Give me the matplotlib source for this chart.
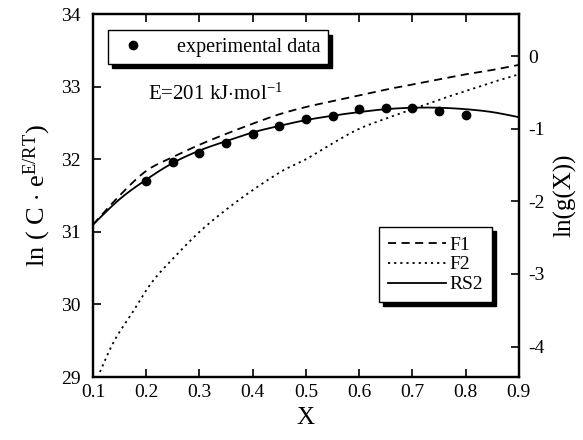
import matplotlib
matplotlib.use("Agg")
import matplotlib.pyplot as plt
import numpy as np

plt.rcParams['font.family'] = ['Liberation Serif', 'DejaVu Serif']
plt.rcParams['mathtext.fontset'] = 'custom'
plt.rcParams['mathtext.rm'] = 'Liberation Serif'
plt.rcParams['mathtext.it'] = 'Liberation Serif:italic'
plt.rcParams['axes.unicode_minus'] = False

# Experimental data
x_exp = [0.20, 0.25, 0.30, 0.35, 0.40, 0.45, 0.50, 0.55, 0.60, 0.65, 0.70, 0.75, 0.80]
y_exp = [31.70, 31.96, 32.09, 32.23, 32.35, 32.46, 32.56, 32.60, 32.69, 32.71, 32.71, 32.67, 32.61]

# Model curves (left-axis units)
x_f1 = [0.10, 0.15, 0.20, 0.25, 0.30, 0.35, 0.40, 0.45, 0.50, 0.55, 0.60, 0.65, 0.70, 0.75, 0.80, 0.85, 0.90]
y_f1 = [31.10, 31.50, 31.84, 32.03, 32.20, 32.35, 32.49, 32.62, 32.72, 32.80, 32.88, 32.96, 33.03, 33.10, 33.17, 33.23, 33.30]

x_f2 = [0.113, 0.14, 0.175, 0.21, 0.25, 0.306, 0.376, 0.451, 0.50, 0.55, 0.60, 0.65, 0.70, 0.75, 0.80, 0.85, 0.90]
y_f2 = [29.07, 29.50, 29.90, 30.30, 30.63, 31.04, 31.45, 31.82, 32.00, 32.22, 32.42, 32.56, 32.69, 32.82, 32.94, 33.06, 33.17]

x_rs2 = [0.10, 0.15, 0.20, 0.25, 0.30, 0.35, 0.40, 0.45, 0.50, 0.55, 0.60, 0.65, 0.70, 0.75, 0.80, 0.85, 0.90]
y_rs2 = [31.10, 31.45, 31.72, 31.95, 32.12, 32.25, 32.37, 32.46, 32.54, 32.60, 32.65, 32.69, 32.71, 32.71, 32.69, 32.65, 32.58]

x_ticks = [0.1, 0.2, 0.3, 0.4, 0.5, 0.6, 0.7, 0.8, 0.9]
y_ticks = [29, 30, 31, 32, 33, 34]
y2_ticks = [0, -1, -2, -3, -4]

fig = plt.figure(figsize=(5.83, 4.40), dpi=100)
ax = fig.add_axes([0.1595, 0.143, 0.7305, 0.825])

def smooth(xs, ys):
    xs = np.asarray(xs); ys = np.asarray(ys)
    pts_x, pts_y = [], []
    t = np.linspace(0, 1, 20, endpoint=False)
    h00 = 2*t**3 - 3*t**2 + 1; h10 = t**3 - 2*t**2 + t
    h01 = -2*t**3 + 3*t**2; h11 = t**3 - t**2
    n = len(xs)
    for i in range(n - 1):
        i0, i3 = max(i - 1, 0), min(i + 2, n - 1)
        for arr, out in ((xs, pts_x), (ys, pts_y)):
            m1 = (arr[i + 1] - arr[i0]) / 2.0
            m2 = (arr[i3] - arr[i]) / 2.0
            out.extend(h00*arr[i] + h10*m1 + h01*arr[i + 1] + h11*m2)
    pts_x.append(xs[-1]); pts_y.append(ys[-1])
    return np.array(pts_x), np.array(pts_y)

sx, sy = smooth(x_f1, y_f1)
l1, = ax.plot(sx, sy, color='black', lw=1.3, dashes=(4.5, 3), label='F1')
sx, sy = smooth(x_f2, y_f2)
l2, = ax.plot(sx, sy, color='black', lw=1.3, dashes=(1.2, 2.2), label='F2')
sx, sy = smooth(x_rs2, y_rs2)
l3, = ax.plot(sx, sy, color='black', lw=1.3, label='RS2')
pts, = ax.plot(x_exp, y_exp, 'o', color='black', ms=6, label='experimental data')

ax.set_xlim(0.1, 0.9)
ax.set_ylim(29, 34)
ax.set_xticks(x_ticks)
ax.set_xticklabels([f"{v:.1f}" for v in x_ticks])
ax.set_yticks(y_ticks)
ax.tick_params(direction='in', length=6, width=1.2, labelsize=14, top=True)
ax.tick_params(axis='y', pad=9)
ax.tick_params(axis='x', pad=5)
for s in ax.spines.values():
    s.set_linewidth(1.6)

ax2 = ax.twinx()
ax2.set_ylim(-4.42, 0.58)
ax2.set_yticks(y2_ticks)
ax2.set_yticklabels([str(v) for v in y2_ticks])
ax2.tick_params(direction='in', length=6, width=1.2, labelsize=14, pad=7)
for s in ax2.spines.values():
    s.set_linewidth(1.6)

ax.set_xlabel('X', fontsize=18, labelpad=4)
ax.set_ylabel(r'ln ( C $\cdot$ e$^{\mathrm{E/RT}}$)', fontsize=19, labelpad=6)
ax2.set_ylabel('ln(g(X))', fontsize=18, labelpad=6)

ax.text(0.203, 32.9, r'E=201 kJ$\cdot$mol$^{\mathrm{-1}}$', fontsize=15, va='center')

leg1 = ax.legend(handles=[pts], loc='upper left', bbox_to_anchor=(0.035, 0.955),
                 fontsize=14.5, frameon=True, fancybox=False, edgecolor='black',
                 shadow={'color': 'black', 'alpha': 1, 'ox': 3, 'oy': -3}, borderpad=0.35,
                 handletextpad=1.3, handlelength=1.8, borderaxespad=0)
leg1.get_frame().set_linewidth(1.0)
ax.add_artist(leg1)
leg2 = ax.legend(handles=[l1, l2, l3], loc='upper left', bbox_to_anchor=(0.671, 0.413),
                 fontsize=14, frameon=True, fancybox=False, edgecolor='black',
                 shadow={'color': 'black', 'alpha': 1, 'ox': 3, 'oy': -3}, borderpad=0.45,
                 handletextpad=0.2, handlelength=3.0, labelspacing=0.12, borderaxespad=0)
leg2.get_frame().set_linewidth(1.0)

fig.savefig('out.png', dpi=100)
